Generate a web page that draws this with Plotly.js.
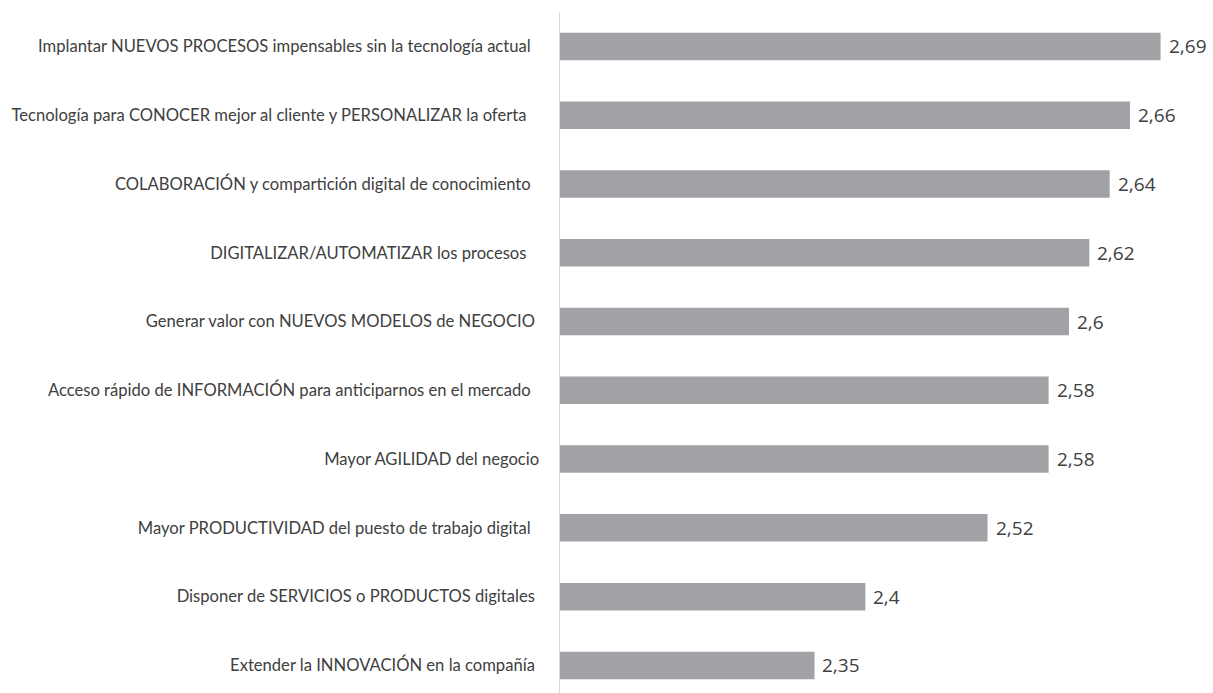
<!DOCTYPE html>
<html>
<head>
<meta charset="utf-8">
<script src="https://cdn.plot.ly/plotly-3.0.1.min.js"></script>
<style>
  html, body { margin: 0; padding: 0; background: #ffffff; }
  #chart { width: 1213px; height: 693px; }
</style>
</head>
<body>
<div id="chart"></div>
<script>
// Palancas de la transformación digital, ordenadas de mayor a menor puntuación
const categorias = [
  "Implantar NUEVOS PROCESOS impensables sin la tecnología actual",
  "Tecnología para CONOCER mejor al cliente y PERSONALIZAR la oferta",
  "COLABORACIÓN y compartición digital de conocimiento",
  "DIGITALIZAR/AUTOMATIZAR los procesos",
  "Generar valor con NUEVOS MODELOS de NEGOCIO",
  "Acceso rápido de INFORMACIÓN para anticiparnos en el mercado",
  "Mayor AGILIDAD del negocio",
  "Mayor PRODUCTIVIDAD del puesto de trabajo digital",
  "Disponer de SERVICIOS o PRODUCTOS digitales",
  "Extender la INNOVACIÓN en la compañía"
];
const puntuaciones = [2.69, 2.66, 2.64, 2.62, 2.6, 2.58, 2.58, 2.52, 2.4, 2.35];

// Textos del eje tal como se rotulan (algunos llevan espacios finales)
const NB = "\u00a0";
const textosEje = [
  categorias[0] + NB + NB,
  categorias[1] + NB + NB + NB,
  categorias[2] + NB + NB,
  categorias[3] + NB + NB + NB,
  categorias[4] + NB,
  categorias[5] + NB + NB,
  categorias[6],
  categorias[7] + NB + NB,
  categorias[8] + NB,
  categorias[9] + NB
];

// Etiquetas de valor con coma decimal
const etiquetas = puntuaciones.map(v => String(v).replace(".", ","));

const barras = {
  type: "bar",
  orientation: "h",
  x: puntuaciones,
  y: categorias,
  marker: { color: "#a1a2a6", line: { width: 0 } },
  width: 0.4,
  hoverinfo: "x+y"
};

const anotaciones = puntuaciones.map((v, i) => ({
  x: v,
  y: categorias[i],
  xref: "x",
  yref: "y",
  text: etiquetas[i],
  showarrow: false,
  xanchor: "left",
  yanchor: "middle",
  xshift: 6,
  font: { family: "Open Sans, sans-serif", size: 19, color: "#404040" }
}));

const layout = {
  width: 1213,
  height: 693,
  margin: { l: 560, r: 0, t: 12, b: 0, pad: 0 },
  paper_bgcolor: "#ffffff",
  plot_bgcolor: "#ffffff",
  showlegend: false,
  xaxis: {
    range: [2.1, 2.7415],
    visible: false,
    fixedrange: true
  },
  yaxis: {
    type: "category",
    categoryorder: "array",
    categoryarray: categorias,
    tickmode: "array",
    tickvals: categorias,
    ticktext: textosEje,
    range: [9.401, -0.5],
    showline: true,
    linecolor: "#d9d9d9",
    linewidth: 1.5,
    showgrid: false,
    zeroline: false,
    ticks: "",
    ticklabelstandoff: 16,
    tickfont: { family: "Lato, sans-serif", size: 16.6, color: "#404040" },
    fixedrange: true
  },
  annotations: anotaciones
};

Plotly.newPlot("chart", [barras], layout, { displayModeBar: false, staticPlot: true });
</script>
</body>
</html>
